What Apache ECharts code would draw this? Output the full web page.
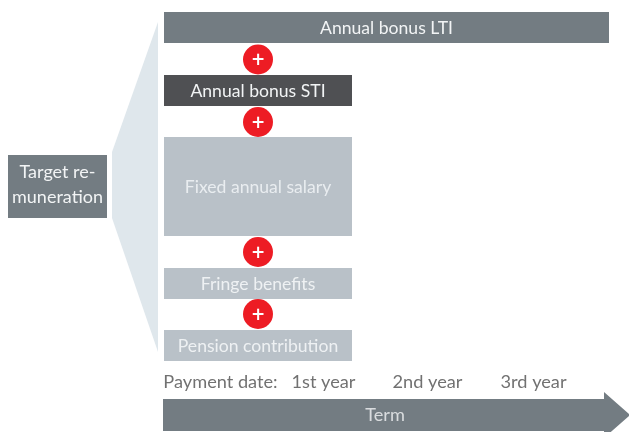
<!DOCTYPE html>
<html>

<head>
    <meta charset="utf-8">
    <title>Target remuneration</title>
    <script src="https://cdn.jsdelivr.net/npm/echarts@6/dist/echarts.min.js"></script>
    <style>
        html, body { margin: 0; padding: 0; background: #fff; overflow: hidden; }
    </style>
</head>

<body>
    <div id="main" style="width: 629px;height:432px;"></div>
    <script type="text/javascript">
        // texts of the scheme
        var boxLabels = ['Annual bonus LTI', 'Annual bonus STI', 'Fixed annual salary', 'Fringe benefits', 'Pension contribution'];
        var targetLabel = 'Target re-\nmuneration';
        var paymentLabel = 'Payment date:';
        var yearLabels = ['1st year', '2nd year', '3rd year'];
        var termLabel = 'Term';

        // layout, in pixels of the 629x432 picture
        var boxLeft = [164, 164, 164, 164, 164];
        var boxRight = [609, 352, 352, 352, 352];
        var boxTop = [12, 75, 137, 268, 330];
        var boxBottom = [43, 106, 236, 299, 361];
        var boxColors = ['#737c82', '#4f5053', '#b9c1c8', '#b9c1c8', '#b9c1c8'];
        var boxTextColors = ['#f2f4f5', '#f2f4f5', '#e9edf0', '#eef1f3', '#eef1f3'];
        var plusY = [59.5, 122, 252, 314];
        var yearX = [323.5, 427.5, 533.5];

        var funnel = [[158, 22], [158, 352], [112, 218], [112, 152]];
        var arrow = [[163, 399], [604, 399], [604, 392], [630, 415], [604, 438], [604, 431], [163, 431]];

        var fontFamily = 'Lato';

        function polygonItem(points, color) {
            return function (params, api) {
                return {
                    type: 'polygon',
                    shape: { points: points.map(function (p) { return api.coord(p); }) },
                    style: { fill: color }
                };
            };
        }

        function boxItem(api, fill, text, textFill, lineHeight, dy, fontSize) {
            var a = api.coord([api.value(0), api.value(1)]);
            var b = api.coord([api.value(2), api.value(3)]);
            return {
                type: 'rect',
                shape: { x: a[0], y: a[1], width: b[0] - a[0], height: b[1] - a[1] },
                style: { fill: fill },
                textContent: {
                    style: {
                        text: text,
                        fill: textFill,
                        font: fontSize + 'px ' + fontFamily,
                        lineHeight: lineHeight,
                        align: 'center',
                        verticalAlign: 'middle'
                    }
                },
                textConfig: { position: 'inside', offset: [0, dy] }
            };
        }

        var myChart = echarts.init(document.getElementById('main'));

        var option = {
            animation: false,
            backgroundColor: '#fff',
            grid: { left: 0, right: 0, top: 0, bottom: 0 },
            xAxis: { type: 'value', min: 0, max: 629, show: false },
            yAxis: { type: 'value', min: 0, max: 432, inverse: true, show: false },
            series: [
                {
                    type: 'custom',
                    silent: true,
                    data: [0],
                    renderItem: polygonItem(funnel, '#dfe7ec')
                },
                {
                    type: 'custom',
                    silent: true,
                    data: boxLabels.map(function (name, i) {
                        return { name: name, value: [boxLeft[i], boxTop[i], boxRight[i], boxBottom[i], i] };
                    }),
                    encode: { x: [0, 2], y: [1, 3] },
                    renderItem: function (params, api) {
                        var i = api.value(4);
                        return boxItem(api, boxColors[i], boxLabels[i], boxTextColors[i], 21, 0.5, 17.6);
                    }
                },
                {
                    // red plus signs
                    type: 'scatter',
                    silent: true,
                    symbol: 'circle',
                    symbolSize: 30,
                    itemStyle: { color: '#ed1c24', opacity: 1 },
                    label: {
                        show: true,
                        position: 'inside',
                        offset: [0, 1.5],
                        formatter: '+',
                        color: '#fff',
                        fontFamily: 'DejaVu Sans',
                        fontWeight: 'bold',
                        fontSize: 17
                    },
                    data: plusY.map(function (y) { return [258, y]; })
                },
                {
                    type: 'custom',
                    silent: true,
                    data: [0],
                    renderItem: polygonItem(arrow, '#737c82')
                },
                {
                    // left box
                    type: 'custom',
                    silent: true,
                    data: [[8, 155, 107, 218]],
                    renderItem: function (params, api) {
                        return boxItem(api, '#737c82', targetLabel, '#f2f4f5', 25, -1.5, 18);
                    }
                },
                {
                    // year labels and arrow text
                    type: 'scatter',
                    silent: true,
                    symbolSize: 0,
                    label: {
                        show: true,
                        position: 'inside',
                        formatter: '{b}',
                        color: '#4d4d4d',
                        fontFamily: fontFamily,
                        fontSize: 18.2
                    },
                    data: yearLabels.map(function (name, i) {
                        return { name: name, value: [yearX[i], 382] };
                    }).concat([
                        { name: paymentLabel, value: [220.5, 382] },
                        { name: termLabel, value: [385, 415], label: { color: '#f2f4f5' } }
                    ])
                }
            ]
        };

        myChart.setOption(option);
    </script>
</body>

</html>
